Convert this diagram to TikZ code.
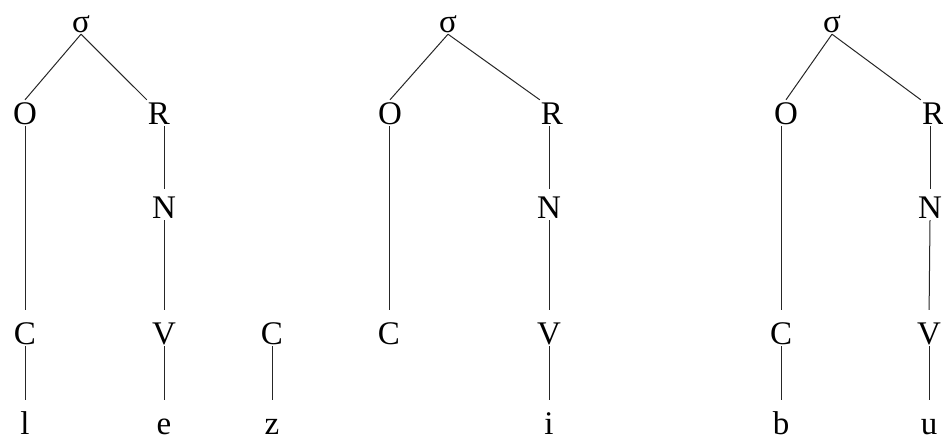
\documentclass[tikz,border=0pt]{standalone}
\usepackage{fontspec}
\setmainfont{Liberation Serif}
\usepackage{tikz}
\usetikzlibrary{positioning}
\tikzset{
  tier/.style={font=\fontsize{33}{38}\selectfont, anchor=base,
    text height=22pt, text depth=0pt, inner xsep=1pt, inner ysep=2pt},
  assoc/.style={line width=1pt, draw=black!85},
  down/.style={assoc, shorten >=10pt},
  tonuc/.style={assoc, shorten >=5pt},
}

\begin{document}
\begin{tikzpicture}[x=1pt, y=-1pt]
  \useasboundingbox (0,0) rectangle (943,439);

  % ---- Nodes: first syllable + stray coda -------------------------------
  \node[tier] (sigA) at (81,32)   {σ};
  \node[tier] (onsA) at (25,124)  {O};
  \node[tier] (rhyA) at (159,124) {R};
  \node[tier] (nucA) at (164,218) {N};
  \node[tier] (cA)   at (25,344)  {C};
  \node[tier] (vA)   at (164,344) {V};
  \node[tier] (segl) at (25,434)  {l};
  \node[tier] (sege) at (164,434) {e};
  \node[tier] (cZ)   at (272,344) {C};
  \node[tier] (segz) at (272,434) {z};

  % ---- Nodes: second syllable -------------------------------------------
  \node[tier] (sigB) at (448,32)  {σ};
  \node[tier] (onsB) at (390,124) {O};
  \node[tier] (rhyB) at (552,124) {R};
  \node[tier] (nucB) at (549,218) {N};
  \node[tier] (cB)   at (389,344) {C};
  \node[tier] (vB)   at (549,344) {V};
  \node[tier] (segi) at (549,434) {i};

  % ---- Nodes: third syllable --------------------------------------------
  \node[tier] (sigC) at (832,32)  {σ};
  \node[tier] (onsC) at (786,124) {O};
  \node[tier] (rhyC) at (933,124) {R};
  \node[tier] (nucC) at (930,218) {N};
  \node[tier] (cC)   at (781,344) {C};
  \node[tier] (vC)   at (929,344) {V};
  \node[tier] (segb) at (781,434) {b};
  \node[tier] (segu) at (929,434) {u};

  % ---- Association lines ------------------------------------------------
  \draw[assoc] (sigA.south) -- (onsA.north);
  \draw[assoc] (sigA.south) -- (rhyA.north west);
  \draw[down]  (onsA.south) -- (cA.north);
  \draw[tonuc] (rhyA.south -| nucA) -- (nucA.north);
  \draw[down]  (nucA.south) -- (vA.north);
  \draw[down]  (cA.south)   -- (segl.north);
  \draw[down]  (vA.south)   -- (sege.north);
  \draw[down]  (cZ.south)   -- (segz.north);

  \draw[assoc] (sigB.south) -- (onsB.north);
  \draw[assoc] (sigB.south) -- (rhyB.north west);
  \draw[down]  (onsB.south -| cB) -- (cB.north);
  \draw[tonuc] (rhyB.south -| nucB) -- (nucB.north);
  \draw[down]  (nucB.south) -- (vB.north);
  \draw[down]  (vB.south)   -- (segi.north);

  \draw[assoc] (sigC.south) -- (onsC.north);
  \draw[assoc] (sigC.south) -- (rhyC.north west);
  \draw[down]  (onsC.south -| cC) -- (cC.north);
  \draw[tonuc] (rhyC.south -| nucC) -- (nucC.north);
  \draw[down]  (nucC.south) -- (vC.north);
  \draw[down]  (cC.south)   -- (segb.north);
  \draw[down]  (vC.south)   -- (segu.north);

\end{tikzpicture}
\end{document}
